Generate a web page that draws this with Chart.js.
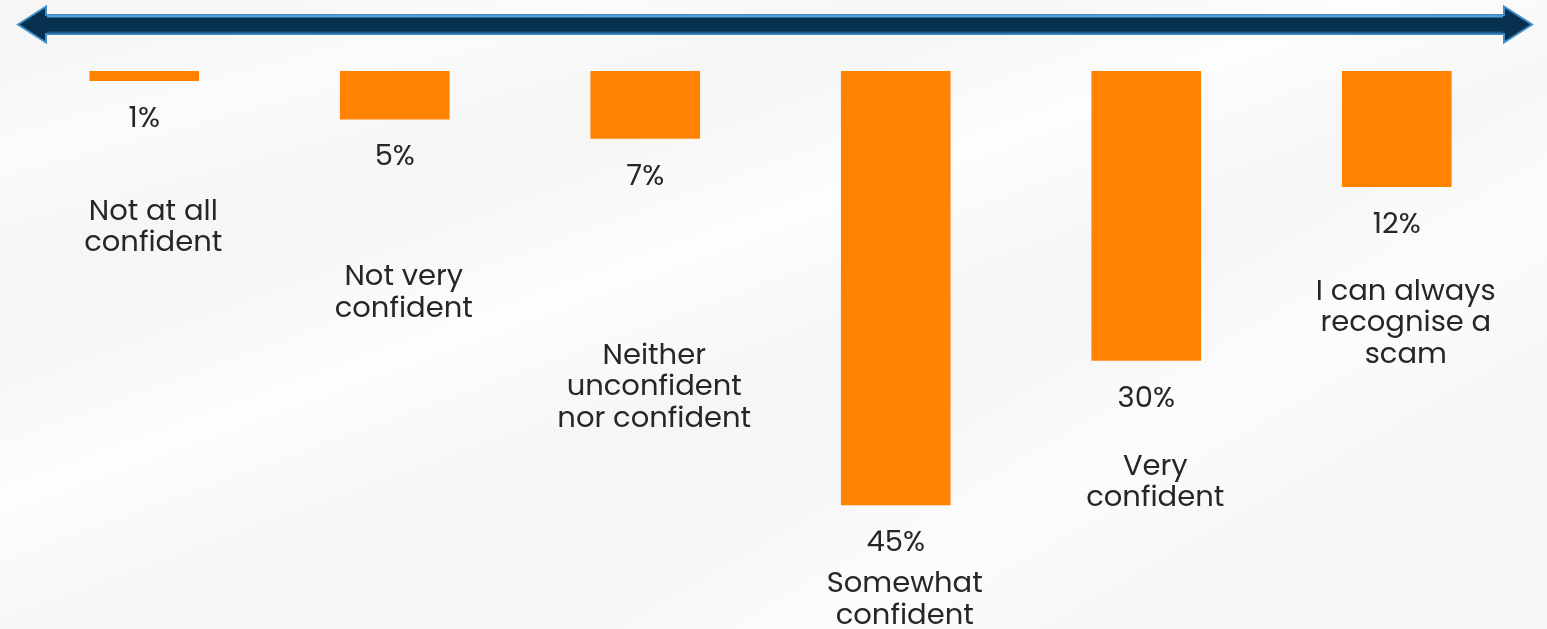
<!DOCTYPE html>
<html>
<head>
<meta charset="utf-8">
<script src="https://cdn.jsdelivr.net/npm/chart.js@4"></script>
<style>
  html, body { margin: 0; padding: 0; }
  body {
    width: 1547px; height: 629px; overflow: hidden;
    background:
      linear-gradient(160deg, rgba(255,255,255,0) 30%, rgba(255,255,255,0.8) 42%, rgba(255,255,255,0) 55%),
      linear-gradient(150deg, rgba(255,255,255,0) 62%, rgba(255,255,255,0.7) 72%, rgba(255,255,255,0) 84%),
      linear-gradient(165deg, rgba(255,255,255,0) 5%, rgba(255,255,255,0.6) 15%, rgba(255,255,255,0) 25%),
      #f6f6f6;
  }
  #chart1 { display: block; }
</style>
</head>
<body>
<canvas id="chart1" width="1547" height="629"></canvas>
<script>
const categories = [
  ['Not at all', 'confident'],
  ['Not very', 'confident'],
  ['Neither', 'unconfident', 'nor confident'],
  ['Somewhat', 'confident'],
  ['Very', 'confident'],
  ['I can always', 'recognise a', 'scam']
]
const shares = [1, 5, 7, 45, 30, 12]

// gap from the % label down to the first line of each category name
const nameGap = [93, 120, 179, 41, 68, 67]

const textFont = '400 29px Poppins, "Noto Sans", sans-serif'
const textColor = '#262626'

// double headed arrow across the top
const arrowPlugin = {
  id: 'topArrow',
  beforeDraw(chart) {
    const c = chart.ctx
    const x0 = 18, x1 = 1532, yc = 24.5
    const headW = 28, headH = 18, shaft = 9.5
    c.save()
    c.beginPath()
    c.moveTo(x0, yc)
    c.lineTo(x0 + headW, yc - headH)
    c.lineTo(x0 + headW, yc - shaft)
    c.lineTo(x1 - headW, yc - shaft)
    c.lineTo(x1 - headW, yc - headH)
    c.lineTo(x1, yc)
    c.lineTo(x1 - headW, yc + headH)
    c.lineTo(x1 - headW, yc + shaft)
    c.lineTo(x0 + headW, yc + shaft)
    c.lineTo(x0 + headW, yc + headH)
    c.closePath()
    c.fillStyle = '#08304f'
    c.fill()
    c.lineWidth = 2
    c.strokeStyle = '#3f8fcc'
    c.stroke()
    // light band along the top of the shaft, darker blue band along the bottom
    c.lineWidth = 2
    c.beginPath()
    c.moveTo(x0 + headW + 1, yc - shaft + 1.5)
    c.lineTo(x1 - headW - 1, yc - shaft + 1.5)
    c.strokeStyle = '#5aa5dc'
    c.stroke()
    c.beginPath()
    c.moveTo(x0 + headW + 1, yc + shaft - 1.5)
    c.lineTo(x1 - headW - 1, yc + shaft - 1.5)
    c.strokeStyle = '#1d5a8e'
    c.stroke()
    c.restore()
  }
}

// % value and category name under each bar
const labelPlugin = {
  id: 'barLabels',
  afterDatasetsDraw(chart) {
    const c = chart.ctx
    const meta = chart.getDatasetMeta(0)
    c.save()
    c.font = textFont
    c.fillStyle = textColor
    c.textAlign = 'center'
    c.textBaseline = 'middle'
    meta.data.forEach((bar, i) => {
      const pctY = bar.y + 39
      c.fillText(shares[i] + '%', bar.x, pctY)
      categories[i].forEach((line, j) => {
        c.fillText(line, bar.x + 9, pctY + nameGap[i] + j * 31.5)
      })
    })
    c.restore()
  }
}

new Chart(document.getElementById('chart1'), {
  type: 'bar',
  data: {
    labels: categories.map(l => l.join(' ')),
    datasets: [{
      data: shares,
      backgroundColor: '#ff8200',
      borderWidth: 0,
      barThickness: 109
    }]
  },
  options: {
    responsive: false,
    animation: false,
    layout: { padding: { top: 71, left: 19, right: 25, bottom: 0 } },
    scales: {
      x: { display: false },
      y: { display: false, reverse: true, min: 0, max: 57.86 }
    },
    plugins: {
      legend: { display: false },
      tooltip: { enabled: false }
    }
  },
  plugins: [arrowPlugin, labelPlugin]
})
</script>
</body>
</html>
